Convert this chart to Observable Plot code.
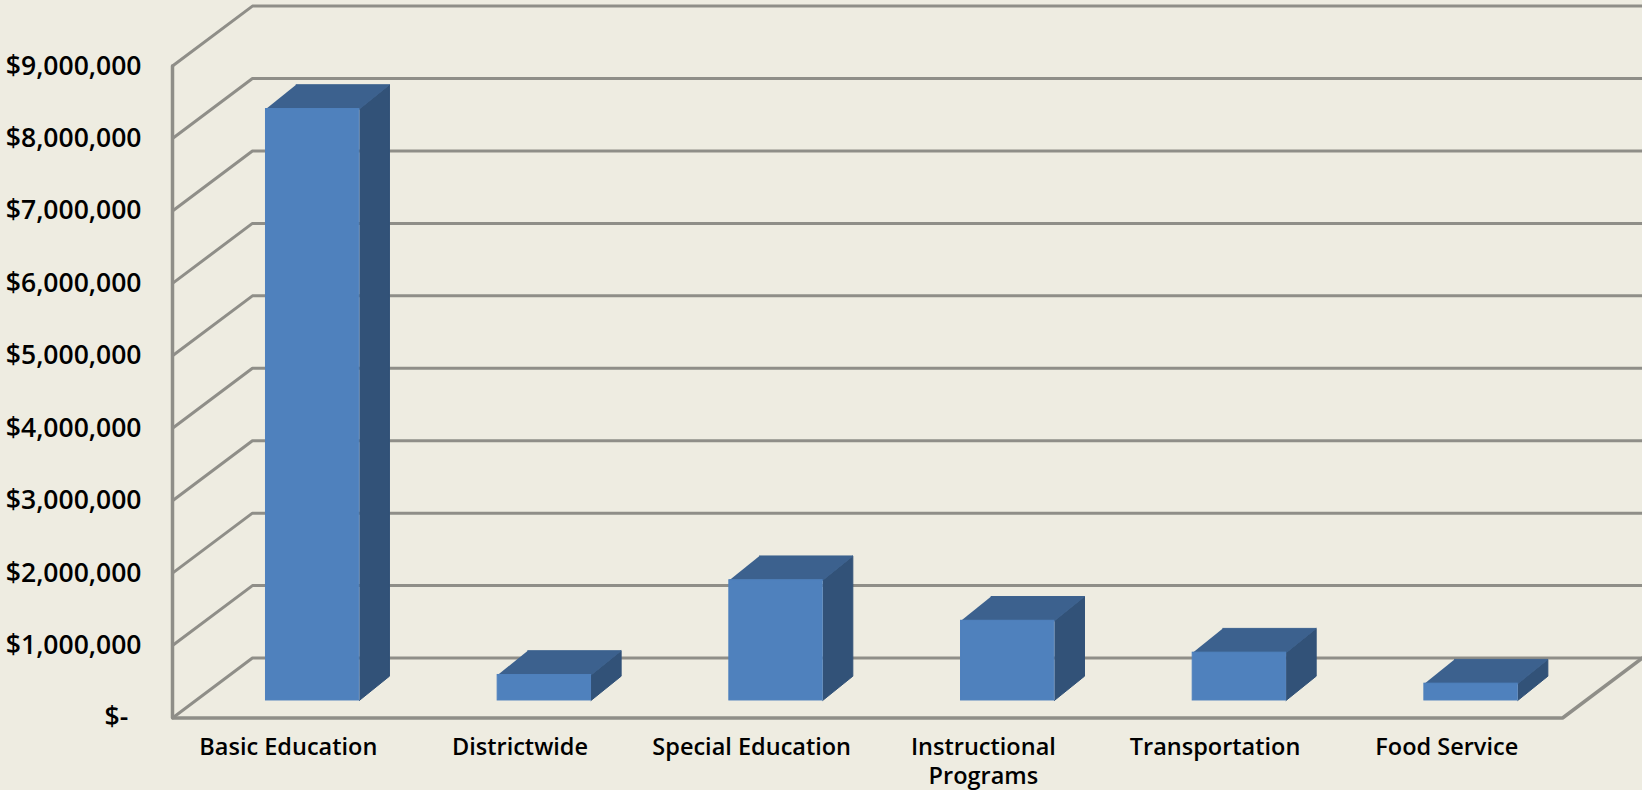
<!DOCTYPE html>
<html>
<head>
<meta charset="utf-8">
<script src="https://cdn.jsdelivr.net/npm/d3@7"></script>
<script src="https://cdn.jsdelivr.net/npm/@observablehq/plot@0.6"></script>
<style>
html,body{margin:0;padding:0;background:#eeece1;overflow:hidden}
svg{display:block}
</style>
</head>
<body>
<div id="chart"></div>
<script>
const categories = ["Basic Education", "Districtwide", "Special Education", "Instructional\nPrograms", "Transportation", "Food Service"];
const values = [8165000, 352000, 1660000, 1100000, 660000, 232000];
const yTicks = [0, 1000000, 2000000, 3000000, 4000000, 5000000, 6000000, 7000000, 8000000, 9000000];

// Oblique-projection depth, expressed in data units (x: category slots, y: dollars)
const wallX = 0.345, wallY = 828000;
const barOffX = 0.105, barOffY = 242000;
const barW = 0.403, barDX = 0.13, barDY = 335000;

const slots = categories.map((c, i) => i + 0.5);
const bars = categories.map((c, i) => {
  const x1 = i + 0.5 - barW / 2 + barOffX, x2 = x1 + barW;
  return {c, x1, x2, y1: barOffY, y2: barOffY + values[i]};
});
const poly = (key, pts) => pts.map(([x, y]) => ({key, x, y}));
const sideFaces = bars.flatMap((b, i) => poly(i, [
  [b.x2, b.y1], [b.x2 + barDX, b.y1 + barDY], [b.x2 + barDX, b.y2 + barDY], [b.x2, b.y2]
]));
const topFaces = bars.flatMap((b, i) => poly(i, [
  [b.x1, b.y2], [b.x2, b.y2], [b.x2 + barDX, b.y2 + barDY], [b.x1 + barDX, b.y2 + barDY]
]));
const n = categories.length;
const gridLines = yTicks.flatMap((v) => poly(v, [
  [0, v], [wallX, v + wallY], [n + wallX, v + wallY]
]));
const frame = [
  ...poly("axis", [[0, 9000000], [0, 0], [n, 0], [n + wallX, wallY]])
];

const grid = "#8f8e88";
const chart = Plot.plot({
  width: 1642,
  height: 790,
  marginLeft: 172,
  marginRight: 0,
  marginTop: 0,
  marginBottom: 72.5,
  style: {background: "#eeece1", color: "#000", fontFamily: "'Open Sans', sans-serif", fontSize: "23px"},
  x: {type: "linear", domain: [0, n + wallX]},
  y: {type: "linear", domain: [0, 9905000]},
  marks: [
    Plot.line(gridLines, {x: "x", y: "y", z: "key", stroke: grid, strokeWidth: 3, strokeLinejoin: "miter"}),
    Plot.line(frame, {x: "x", y: "y", z: "key", stroke: grid, strokeWidth: 3.5, strokeLinejoin: "miter"}),
    Plot.line(sideFaces, {x: "x", y: "y", z: "key", fill: "#325278", stroke: "#325278", strokeWidth: 1}),
    Plot.line(topFaces, {x: "x", y: "y", z: "key", fill: "#3c618e", stroke: "#3c618e", strokeWidth: 1}),
    Plot.rect(bars, {x1: "x1", x2: "x2", y1: "y1", y2: "y2", fill: "#4f81bd", stroke: "#4f81bd", strokeWidth: 1}),
    Plot.axisY({
      ticks: yTicks, tickSize: 0, tickPadding: 31, label: null, fontSize: 26.5, fontWeight: 600,
      tickFormat: (v) => v === 0 ? "$-\u2002" : "$" + d3.format(",")(v)
    }),
    Plot.axisX({
      ticks: slots, tickSize: 0, tickPadding: 16, label: null, lineHeight: 1.25, fontSize: 23.5, fontWeight: 600,
      tickFormat: (v) => categories[Math.floor(v)]
    })
  ]
});
document.getElementById("chart").appendChild(chart);
</script>
</body>
</html>
